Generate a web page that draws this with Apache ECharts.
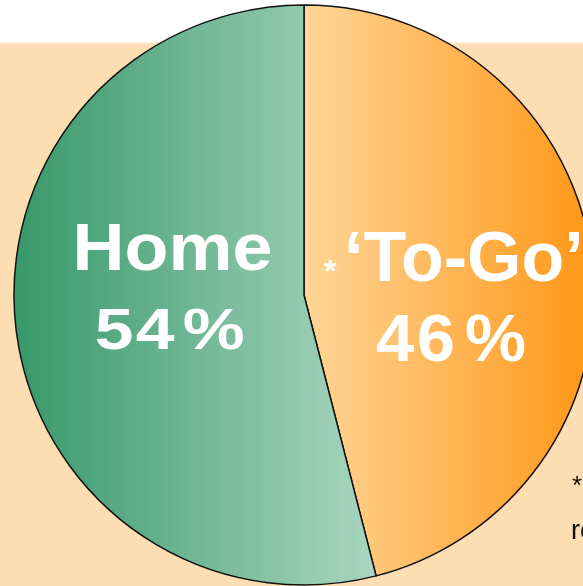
<!DOCTYPE html>
<html>
<head>
<meta charset="utf-8">
<script src="https://cdn.jsdelivr.net/npm/echarts@6/dist/echarts.min.js"></script>
<style>
html,body{margin:0;padding:0;background:#fff;}
#c{width:583px;height:586px;}
</style>
</head>
<body>
<div id="c"></div>
<script>
var categories = ['\u2018To-Go\u2019', 'Home'];
var values = [46, 54];
var percentLabels = ['46%', '54%'];

var chart = echarts.init(document.getElementById('c'), null, {renderer: 'canvas'});

function grad(c0, c1) {
  return {type: 'linear', x: 0, y: 0, x2: 1, y2: 0,
    colorStops: [{offset: 0, color: c0}, {offset: 1, color: c1}]};
}
var sliceColors = [grad('#FFD698', '#FF9614'), grad('#379869', '#AAD6C1')];

function spaced(str, style) {
  return str.split('').map(function (ch) { return '{' + (ch === '%' ? style + 'p' : style) + '|' + ch + '}'; }).join('');
}
var FONT = '"Liberation Sans", Arial, sans-serif';

var option = {
  backgroundColor: '#ffffff',
  animation: false,
  graphic: [
    {type: 'rect', z: -10, shape: {x: 0, y: 43, width: 583, height: 543}, style: {fill: '#FDDDB2'}},
    {type: 'rect', z: -9, shape: {x: 0, y: 42, width: 583, height: 2}, style: {fill: '#FEEBD2'}},
    {type: 'text', z: 20, x: 172.5, y: 252, scaleX: 1.09, style: {text: categories[1], fill: '#fff', align: 'center', verticalAlign: 'middle', font: 'bold 66px ' + FONT}},
    {type: 'text', z: 20, x: 173, y: 333, scaleX: 1.2, style: {
      text: spaced(percentLabels[1], 'd'), fill: '#fff', align: 'center', verticalAlign: 'middle',
      rich: {
        d: {font: 'bold 58px ' + FONT, width: 34, align: 'center', fill: '#fff'},
        dp: {font: 'bold 58px ' + FONT, width: 64, align: 'center', fill: '#fff'}
      }}},
    {type: 'text', z: 20, x: 324, y: 257, style: {text: '*', fill: '#fff', font: 'bold 32px ' + FONT}},
    {type: 'text', z: 20, x: 344, y: 227, style: {text: categories[0], fill: '#fff', font: 'bold 70px ' + FONT}},
    {type: 'text', z: 20, x: 455, y: 343, scaleX: 1.04, style: {
      text: spaced(percentLabels[0], 'e'), fill: '#fff', align: 'center', verticalAlign: 'middle',
      rich: {
        e: {font: 'bold 66px ' + FONT, width: 39, align: 'center', fill: '#fff'},
        ep: {font: 'bold 66px ' + FONT, width: 76, align: 'center', fill: '#fff'}
      }}},
    {type: 'text', z: 20, x: 572, y: 474, style: {text: '*', fill: '#111', font: '26px ' + FONT}},
    {type: 'text', z: 20, x: 571, y: 518, style: {text: 'restaurant', fill: '#111', font: '27px ' + FONT}}
  ],
  series: [{
    type: 'pie',
    center: [304, 295],
    radius: 290,
    startAngle: 90,
    clockwise: true,
    label: {show: false},
    labelLine: {show: false},
    emphasis: {disabled: true},
    itemStyle: {borderColor: '#111', borderWidth: 1.5},
    data: categories.map(function (c, i) {
      return {name: c, value: values[i], itemStyle: {color: sliceColors[i]}};
    })
  }]
};
chart.setOption(option);
</script>
</body>
</html>
